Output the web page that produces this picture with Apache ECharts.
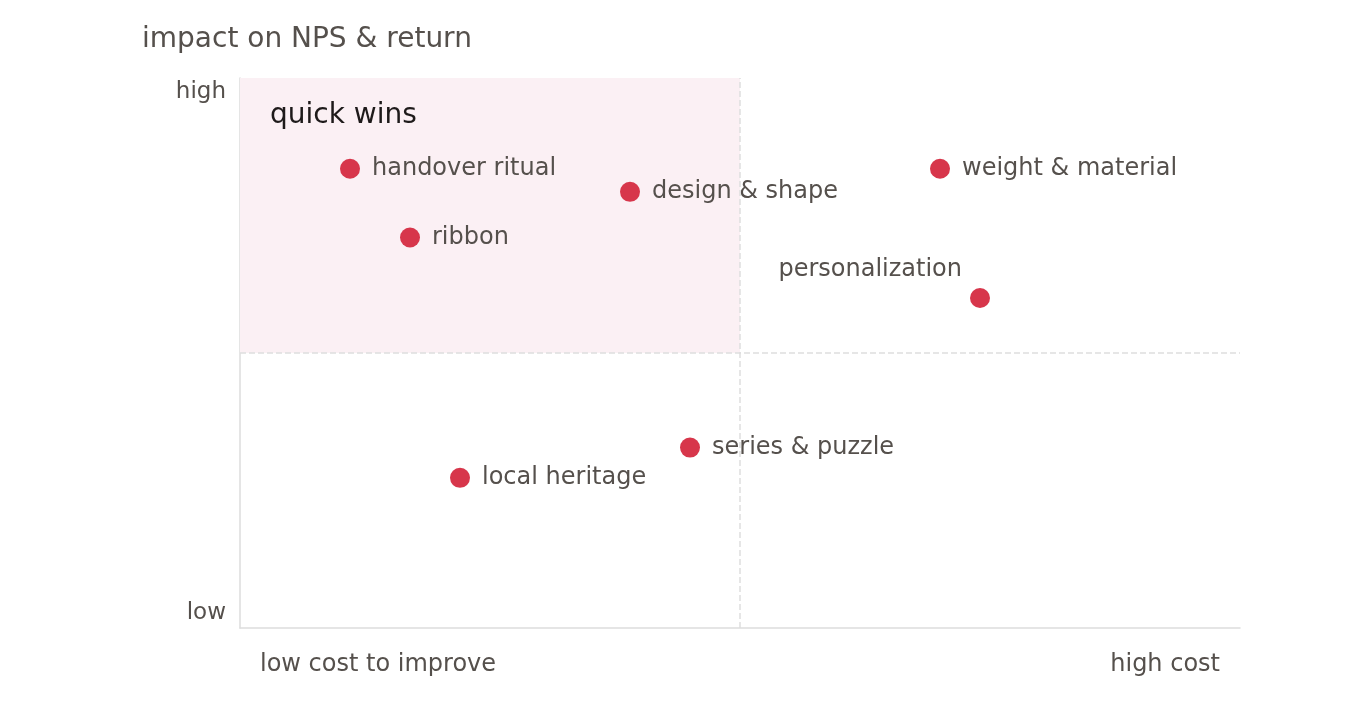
<!DOCTYPE html>
<html>
<head>
<meta charset="utf-8">
<script src="https://cdn.jsdelivr.net/npm/echarts@6/dist/echarts.min.js"></script>
<style>
  html, body { margin: 0; padding: 0; background: #fff; }
  #chart { width: 1360px; height: 717px; }
</style>
</head>
<body>
<div id="chart"></div>
<script>
// data (cost 0-10, impact 0-10)
var names = ['handover ritual', 'design & shape', 'ribbon', 'weight & material', 'personalization', 'series & puzzle', 'local heritage'];
var cost = [1.1, 3.9, 1.7, 7.0, 7.4, 4.5, 2.2];
var impact = [8.35, 7.93, 7.1, 8.35, 6.0, 3.28, 2.73];
var xTickLabels = ['low cost to improve', 'high cost'];
var yTickLabels = ['low', 'high'];

var textColor = '#55504c';
var font = 'DejaVu Sans';

var points = names.map(function (n, i) {
  var p = { name: n, value: [cost[i], impact[i]] };
  if (n === 'personalization') {
    p.label = { position: 'left', distance: 8, offset: [0, -28] };
  }
  return p;
});

var myChart = echarts.init(document.getElementById('chart'));
var option = {
  animation: false,
  title: {
    text: 'impact on NPS & return',
    left: 137,
    top: 21,
    textStyle: { fontFamily: font, fontSize: 28, fontWeight: 'normal', color: textColor }
  },
  grid: { left: 240, right: 120, top: 78, bottom: 89 },
  xAxis: {
    type: 'value',
    min: 0, max: 10, interval: 10,
    axisLine: { show: true, lineStyle: { color: '#dddddd', width: 1.5 } },
    axisTick: { show: false },
    splitLine: { show: false },
    axisLabel: {
      margin: 25,
      fontFamily: font, fontSize: 24, color: textColor,
      padding: [0, 20, 0, 20],
      alignMinLabel: 'left',
      alignMaxLabel: 'right',
      formatter: function (v) { return v === 0 ? xTickLabels[0] : xTickLabels[1]; }
    }
  },
  yAxis: {
    type: 'value',
    min: 0, max: 10, interval: 10,
    axisLine: { show: true, lineStyle: { color: '#dddddd', width: 1.5 } },
    axisTick: { show: false },
    splitLine: { show: false },
    axisLabel: {
      margin: 14,
      fontFamily: font, fontSize: 23, color: textColor,
      lineHeight: 29,
      verticalAlignMinLabel: 'bottom',
      verticalAlignMaxLabel: 'top',
      formatter: function (v) { return v === 0 ? yTickLabels[0] : yTickLabels[1]; }
    }
  },
  series: [{
    type: 'scatter',
    symbolSize: 20,
    itemStyle: { color: '#d7364b', opacity: 1 },
    label: {
      show: true,
      position: 'right',
      distance: 12,
      formatter: '{b}',
      fontFamily: font, fontSize: 24, color: textColor
    },
    data: points,
    markArea: {
      silent: true,
      itemStyle: { color: '#fbf0f4', opacity: 1 },
      label: {
        show: true,
        position: 'insideTopLeft',
        distance: 0,
        offset: [30, 24],
        fontFamily: font, fontSize: 28, color: '#1e1a1a'
      },
      data: [[{ name: 'quick wins', coord: [0, 10] }, { coord: [5, 5] }]]
    },
    markLine: {
      silent: true,
      symbol: 'none',
      label: { show: false },
      lineStyle: { color: '#dedede', type: 'dashed', width: 1.5 },
      data: [{ xAxis: 5 }, { yAxis: 5 }]
    }
  }]
};
myChart.setOption(option);
window.onresize = myChart.resize;
</script>
</body>
</html>
